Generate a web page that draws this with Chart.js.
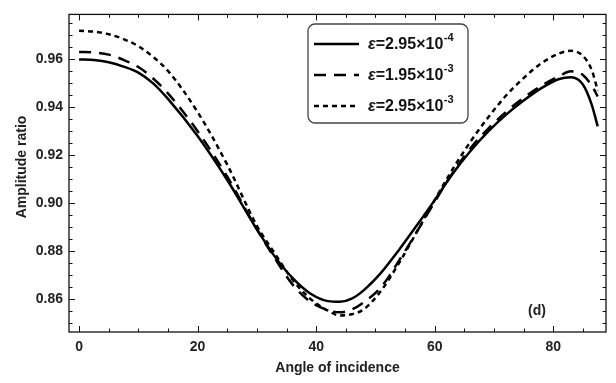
<!DOCTYPE html>
<html>
<head>
<meta charset="utf-8">
<script src="https://cdn.jsdelivr.net/npm/chart.js@4.4.1/dist/chart.umd.min.js"></script>
<style>
  html, body { margin: 0; padding: 0; background: #fff; }
</style>
</head>
<body>
<canvas id="chart" width="616" height="383"></canvas>
<script>
// values
const angles = [0, 2.5, 5, 7.5, 10, 12.5, 15, 20, 25, 30, 33, 36, 39, 42, 44, 46, 48, 51, 54, 57, 60, 63, 66, 69, 72, 75, 78, 81, 83, 85, 86.5, 87.5];
const ratioSmall = [0.9600, 0.9597, 0.9588, 0.9570, 0.9545, 0.9500, 0.9435, 0.9280, 0.9096, 0.8890, 0.8777, 0.8687, 0.8622, 0.8590, 0.8587, 0.8600, 0.8635, 0.8710, 0.8805, 0.8907, 0.9012, 0.9121, 0.9216, 0.9298, 0.9368, 0.9428, 0.9480, 0.9518, 0.9525, 0.9495, 0.9410, 0.9320];
const ratioMid = [0.9631, 0.9629, 0.9620, 0.9598, 0.9568, 0.9520, 0.9458, 0.9300, 0.9110, 0.8890, 0.8770, 0.8660, 0.8588, 0.8552, 0.8543, 0.8555, 0.8585, 0.8650, 0.8760, 0.8880, 0.9005, 0.9125, 0.9228, 0.9310, 0.9380, 0.9440, 0.9490, 0.9530, 0.9550, 0.9535, 0.9490, 0.9445];
const ratioLarge = [0.9720, 0.9716, 0.9705, 0.9685, 0.9655, 0.9610, 0.9552, 0.9380, 0.9160, 0.8905, 0.8790, 0.8680, 0.8600, 0.8550, 0.8530, 0.8535, 0.8555, 0.8635, 0.8750, 0.8880, 0.9012, 0.9140, 0.9255, 0.9357, 0.9448, 0.9522, 0.9584, 0.9625, 0.9636, 0.9615, 0.9555, 0.9470];
const legendMantissa = ['2.95', '1.95', '2.95'];
const legendExponent = ['-4', '-3', '-3'];

const FONT = "'Liberation Sans', Arial, sans-serif";

function pts(vals) {
  return vals.map((v, i) => ({ x: angles[i], y: v }));
}

function series(vals, dash) {
  return {
    data: pts(vals),
    borderColor: '#000',
    borderWidth: 2.5,
    borderDash: dash,
    pointRadius: 0,
    fill: false,
    cubicInterpolationMode: 'monotone',
  };
}

// frame, inward ticks, axis titles, legend box
const decorations = {
  id: 'decorations',
  afterDatasetsDraw(chart) {
    const { ctx, chartArea: a, scales: { x, y } } = chart;
    ctx.save();
    ctx.strokeStyle = '#111';
    ctx.lineWidth = 1.3;
    ctx.strokeRect(a.left, a.top, a.right - a.left, a.bottom - a.top);

    ctx.lineWidth = 1;
    ctx.beginPath();
    for (let v = 0; v <= 85; v += 5) {
      const px = Math.round(x.getPixelForValue(v)) + 0.5;
      const len = v % 20 === 0 ? 6 : 3.5;
      ctx.moveTo(px, a.bottom); ctx.lineTo(px, a.bottom - len);
      ctx.moveTo(px, a.top); ctx.lineTo(px, a.top + len);
    }
    for (let i = 0; i <= 26; i++) {
      const v = 0.85 + i * 0.005;
      if (v > y.max) break;
      const py = Math.round(y.getPixelForValue(v)) + 0.5;
      const len = i % 4 === 2 ? 6 : 3.5;
      ctx.moveTo(a.left, py); ctx.lineTo(a.left + len, py);
      ctx.moveTo(a.right, py); ctx.lineTo(a.right - len, py);
    }
    ctx.stroke();

    // axis titles
    ctx.fillStyle = '#222';
    ctx.font = 'bold 14px ' + FONT;
    ctx.textAlign = 'center';
    ctx.textBaseline = 'middle';
    ctx.fillText('Angle of incidence', (a.left + a.right) / 2, 368);
    ctx.save();
    ctx.translate(22, 167);
    ctx.rotate(-Math.PI / 2);
    ctx.fillText('Amplitude ratio', 0, 0);
    ctx.restore();
    ctx.fillText('(d)', 537, 311);

    // legend
    const bx = 308, by = 24, bw = 160, bh = 99;
    ctx.beginPath();
    ctx.roundRect(bx, by, bw, bh, 7);
    ctx.fillStyle = '#fff';
    ctx.fill();
    ctx.strokeStyle = '#444';
    ctx.lineWidth = 1.3;
    ctx.stroke();

    const rows = [44, 75, 106];
    chart.data.datasets.forEach((ds, i) => {
      const ry = rows[i];
      ctx.beginPath();
      ctx.setLineDash(ds.borderDash || []);
      ctx.lineWidth = 2.5;
      ctx.strokeStyle = '#000';
      ctx.moveTo(314, ry);
      ctx.lineTo(359, ry);
      ctx.stroke();
      ctx.setLineDash([]);

      ctx.fillStyle = '#111';
      ctx.textAlign = 'left';
      ctx.textBaseline = 'middle';
      let tx = 368;
      ctx.font = 'italic bold 16px ' + FONT;
      ctx.fillText('\u03b5', tx, ry + 1);
      tx += ctx.measureText('\u03b5').width;
      ctx.font = 'bold 16px ' + FONT;
      const base = '=' + legendMantissa[i] + '\u00d710';
      ctx.fillText(base, tx, ry + 1);
      tx += ctx.measureText(base).width + 0.5;
      ctx.font = 'bold 11px ' + FONT;
      ctx.fillText(legendExponent[i], tx, ry - 6);
    });
    ctx.restore();
  }
};

new Chart(document.getElementById('chart'), {
  type: 'line',
  data: {
    datasets: [
      series(ratioSmall, []),
      series(ratioMid, [12, 8]),
      series(ratioLarge, [5, 4]),
    ],
  },
  options: {
    responsive: false,
    animation: false,
    layout: { padding: { top: 7, right: 10, left: 0, bottom: 0 } },
    plugins: { legend: { display: false }, tooltip: { enabled: false } },
    scales: {
      x: {
        type: 'linear',
        min: -1.7,
        max: 88.9,
        grid: { display: false, drawTicks: false },
        border: { display: false },
        ticks: {
          stepSize: 20,
          includeBounds: false,
          padding: 7,
          color: '#222',
          font: { family: FONT, size: 14, weight: 'bold' },
          maxRotation: 0,
        },
        afterFit(scale) { scale.height = 51; },
      },
      y: {
        min: 0.8461,
        max: 0.9788,
        grid: { display: false, drawTicks: false },
        border: { display: false },
        ticks: {
          stepSize: 0.02,
          includeBounds: false,
          padding: 6,
          color: '#222',
          font: { family: FONT, size: 14, weight: 'bold' },
          callback: v => v.toFixed(2),
        },
        afterFit(scale) { scale.width = 69; },
      },
    },
  },
  plugins: [decorations],
});
</script>
</body>
</html>
